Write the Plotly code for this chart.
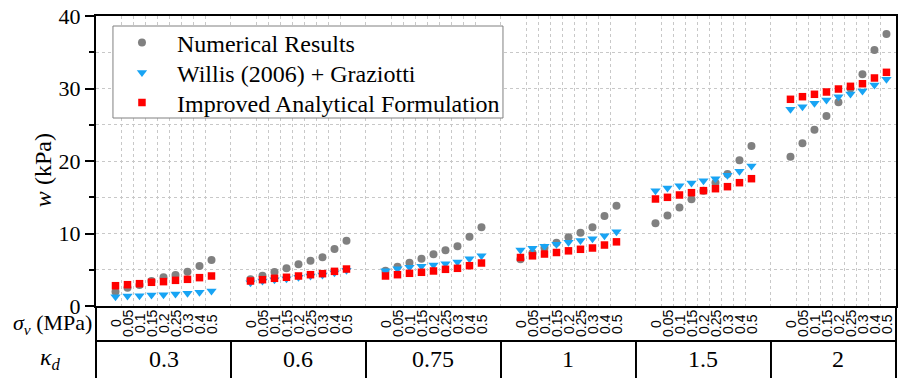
import plotly.graph_objects as go

# Stiffness ratio groups and pre-compression levels within each group
kappa_labels = ["0.3", "0.6", "0.75", "1", "1.5", "2"]
sigma_labels = ["0", "0.05", "0.1", "0.15", "0.2", "0.25", "0.3", "0.4", "0.5"]

# Out-of-plane capacity w (kPa), one row per kappa_d group, one value per sigma_v
numerical = [
    [1.98, 2.53, 2.90, 3.45, 3.95, 4.28, 4.74, 5.52, 6.34],
    [3.68, 4.18, 4.69, 5.20, 5.75, 6.25, 6.71, 7.86, 9.01],
    [4.87, 5.42, 5.97, 6.53, 7.13, 7.68, 8.23, 9.56, 10.85],
    [6.44, 7.30, 8.05, 8.74, 9.47, 10.11, 10.85, 12.41, 13.84],
    [11.40, 12.50, 13.60, 14.71, 15.90, 17.00, 18.20, 20.10, 22.07],
    [20.60, 22.44, 24.32, 26.21, 28.09, 30.00, 31.96, 35.31, 37.52],
]
willis = [
    [1.28, 1.38, 1.42, 1.52, 1.56, 1.66, 1.75, 1.89, 2.07],
    [3.22, 3.45, 3.63, 3.77, 3.96, 4.14, 4.28, 4.60, 4.92],
    [4.87, 5.15, 5.33, 5.47, 5.66, 5.84, 6.07, 6.53, 6.94],
    [7.72, 7.98, 8.25, 8.53, 8.80, 9.02, 9.27, 9.70, 10.25],
    [15.91, 16.28, 16.60, 16.97, 17.29, 17.56, 18.03, 18.57, 19.31],
    [27.13, 27.49, 27.96, 28.41, 28.87, 29.24, 29.66, 30.48, 31.27],
]
improved = [
    [2.80, 2.94, 3.08, 3.27, 3.36, 3.54, 3.68, 3.91, 4.14],
    [3.45, 3.63, 3.82, 3.96, 4.14, 4.32, 4.46, 4.78, 5.10],
    [4.14, 4.32, 4.51, 4.65, 4.83, 5.06, 5.20, 5.56, 5.93],
    [6.69, 6.92, 7.17, 7.38, 7.61, 7.82, 8.00, 8.41, 8.85],
    [14.76, 14.99, 15.31, 15.63, 15.91, 16.18, 16.46, 17.01, 17.56],
    [28.51, 28.87, 29.20, 29.52, 29.93, 30.30, 30.66, 31.45, 32.23],
]

series_names = ["Numerical Results", "Willis (2006) + Graziotti",
                "Improved Analytical Formulation"]

# Layout of the grouped category axis (in slot units)
GROUP_W = 11.25
FIRST = 1.625
X_MAX = 66.67

SERIF = "Liberation Serif, Times New Roman, serif"
SANS = "Liberation Sans, Arial, sans-serif"

PLOT_W = 802.0
PLOT_H = 290.0

n_g = len(kappa_labels)
n_s = len(sigma_labels)


def xpos(g, i):
    return g * GROUP_W + FIRST + i


def px_x(px):
    return (px - 96) / PLOT_W


def px_y(px):
    return (306 - px) / PLOT_H


xs = [xpos(g, i) for g in range(n_g) for i in range(n_s)]


def flat(rows):
    return [v for r in rows for v in r]


styles = [
    dict(symbol="circle", size=8, color="#808080"),
    dict(symbol="triangle-down", size=9, color="#18A4F4"),
    dict(symbol="square", size=7.5, color="#FF0000"),
]
legend_ids = ["legend", "legend2", "legend3"]

fig = go.Figure()
for name, rows, st, lg in zip(series_names, [numerical, willis, improved], styles, legend_ids):
    fig.add_trace(go.Scatter(x=xs, y=flat(rows), mode="markers", name=name,
                             marker=st, legend=lg))

# vertical grid: group borders and midpoints between neighbouring sigma_v slots
grid_x = []
for g in range(n_g):
    grid_x.append(g * GROUP_W)
    grid_x += [xpos(g, i) + 0.5 for i in range(n_s - 1)]

fig.update_xaxes(
    range=[0, X_MAX], tickmode="array", tickvals=grid_x, showticklabels=False,
    ticks="", showgrid=True, gridcolor="#c8c8c8", griddash="3px,3px", gridwidth=1,
    zeroline=False, showline=True, linecolor="black", linewidth=2, mirror=True)
fig.update_yaxes(
    range=[0, 40], tickmode="linear", dtick=10, tick0=0,
    ticks="outside", ticklen=9, tickwidth=1.5, tickcolor="black",
    tickfont=dict(family=SERIF, size=22, color="black"),
    showgrid=True, gridcolor="#c8c8c8", griddash="3px,3px", gridwidth=1,
    minor=dict(dtick=5, ticks="outside", ticklen=5, tickwidth=1.5, tickcolor="black",
               showgrid=True, gridcolor="#c8c8c8", griddash="3px,3px"),
    zeroline=False, showline=True, linecolor="black", linewidth=2, mirror=True)

row1_y = px_y(323.5)     # centre of sigma_v row
row_sep = px_y(341)      # line between the two table rows
row2_y = px_y(359)       # centre of kappa_d row
bottom = px_y(378)

shapes = [
    # legend frame (white fill hides the grid behind the legend)
    dict(type="rect", xref="paper", yref="paper", layer="above",
         x0=px_x(113), x1=px_x(504), y0=px_y(118), y1=px_y(26),
         fillcolor="white", line=dict(color="#808080", width=1)),
    dict(type="line", xref="paper", yref="paper", x0=0, x1=1, y0=row_sep, y1=row_sep,
         line=dict(color="black", width=2)),
    dict(type="line", xref="paper", yref="paper", x0=0, x1=0, y0=0, y1=bottom,
         line=dict(color="black", width=2)),
    dict(type="line", xref="paper", yref="paper", x0=1, x1=1, y0=0, y1=bottom,
         line=dict(color="black", width=2)),
]
for g in range(1, n_g):
    shapes.append(dict(type="line", xref="x", yref="paper", x0=g * GROUP_W, x1=g * GROUP_W,
                       y0=row_sep, y1=bottom, line=dict(color="black", width=2)))

annotations = []
for g in range(n_g):
    for i, s in enumerate(sigma_labels):
        annotations.append(dict(
            x=xpos(g, i), y=row1_y, xref="x", yref="paper", text=s, showarrow=False,
            textangle=-90, xanchor="center", yanchor="middle",
            font=dict(family=SANS, size=14, color="black")))
    annotations.append(dict(
        x=g * GROUP_W + GROUP_W / 2, y=row2_y, xref="x", yref="paper",
        text=kappa_labels[g], showarrow=False, xanchor="center", yanchor="middle",
        font=dict(family=SERIF, size=24, color="black")))

annotations += [
    dict(x=px_x(94), y=row1_y, xref="paper", yref="paper",
         text="<i>σ<sub>v</sub></i> (MPa)", showarrow=False, xanchor="right",
         yanchor="middle", font=dict(family=SERIF, size=22, color="black")),
    dict(x=px_x(50), y=row2_y, xref="paper", yref="paper",
         text="<i>κ<sub>d</sub></i>", showarrow=False, xanchor="center",
         yanchor="middle", font=dict(family=SERIF, size=24, color="black")),
    dict(x=px_x(43), y=px_y(170), xref="paper", yref="paper",
         text="<i>w</i> (kPa)", showarrow=False, textangle=-90, xanchor="center",
         yanchor="middle", font=dict(family=SERIF, size=24, color="black")),
]

# one legend per series so the rows can be spaced freely inside the frame
legend_rows = [43, 73, 103]
legend_cfg = {}
for lg, ry in zip(legend_ids, legend_rows):
    legend_cfg[lg] = dict(
        x=px_x(107), y=px_y(ry), xanchor="left", yanchor="middle",
        bgcolor="rgba(0,0,0,0)", borderwidth=0, itemwidth=60,
        font=dict(family=SERIF, size=24, color="black"))

fig.update_layout(
    width=899, height=378,
    margin=dict(l=96, r=1, t=16, b=72),
    paper_bgcolor="white", plot_bgcolor="white",
    font=dict(family=SERIF, color="black"),
    shapes=shapes, annotations=annotations,
    showlegend=True,
    **legend_cfg,
)

fig.write_html("out.html")
